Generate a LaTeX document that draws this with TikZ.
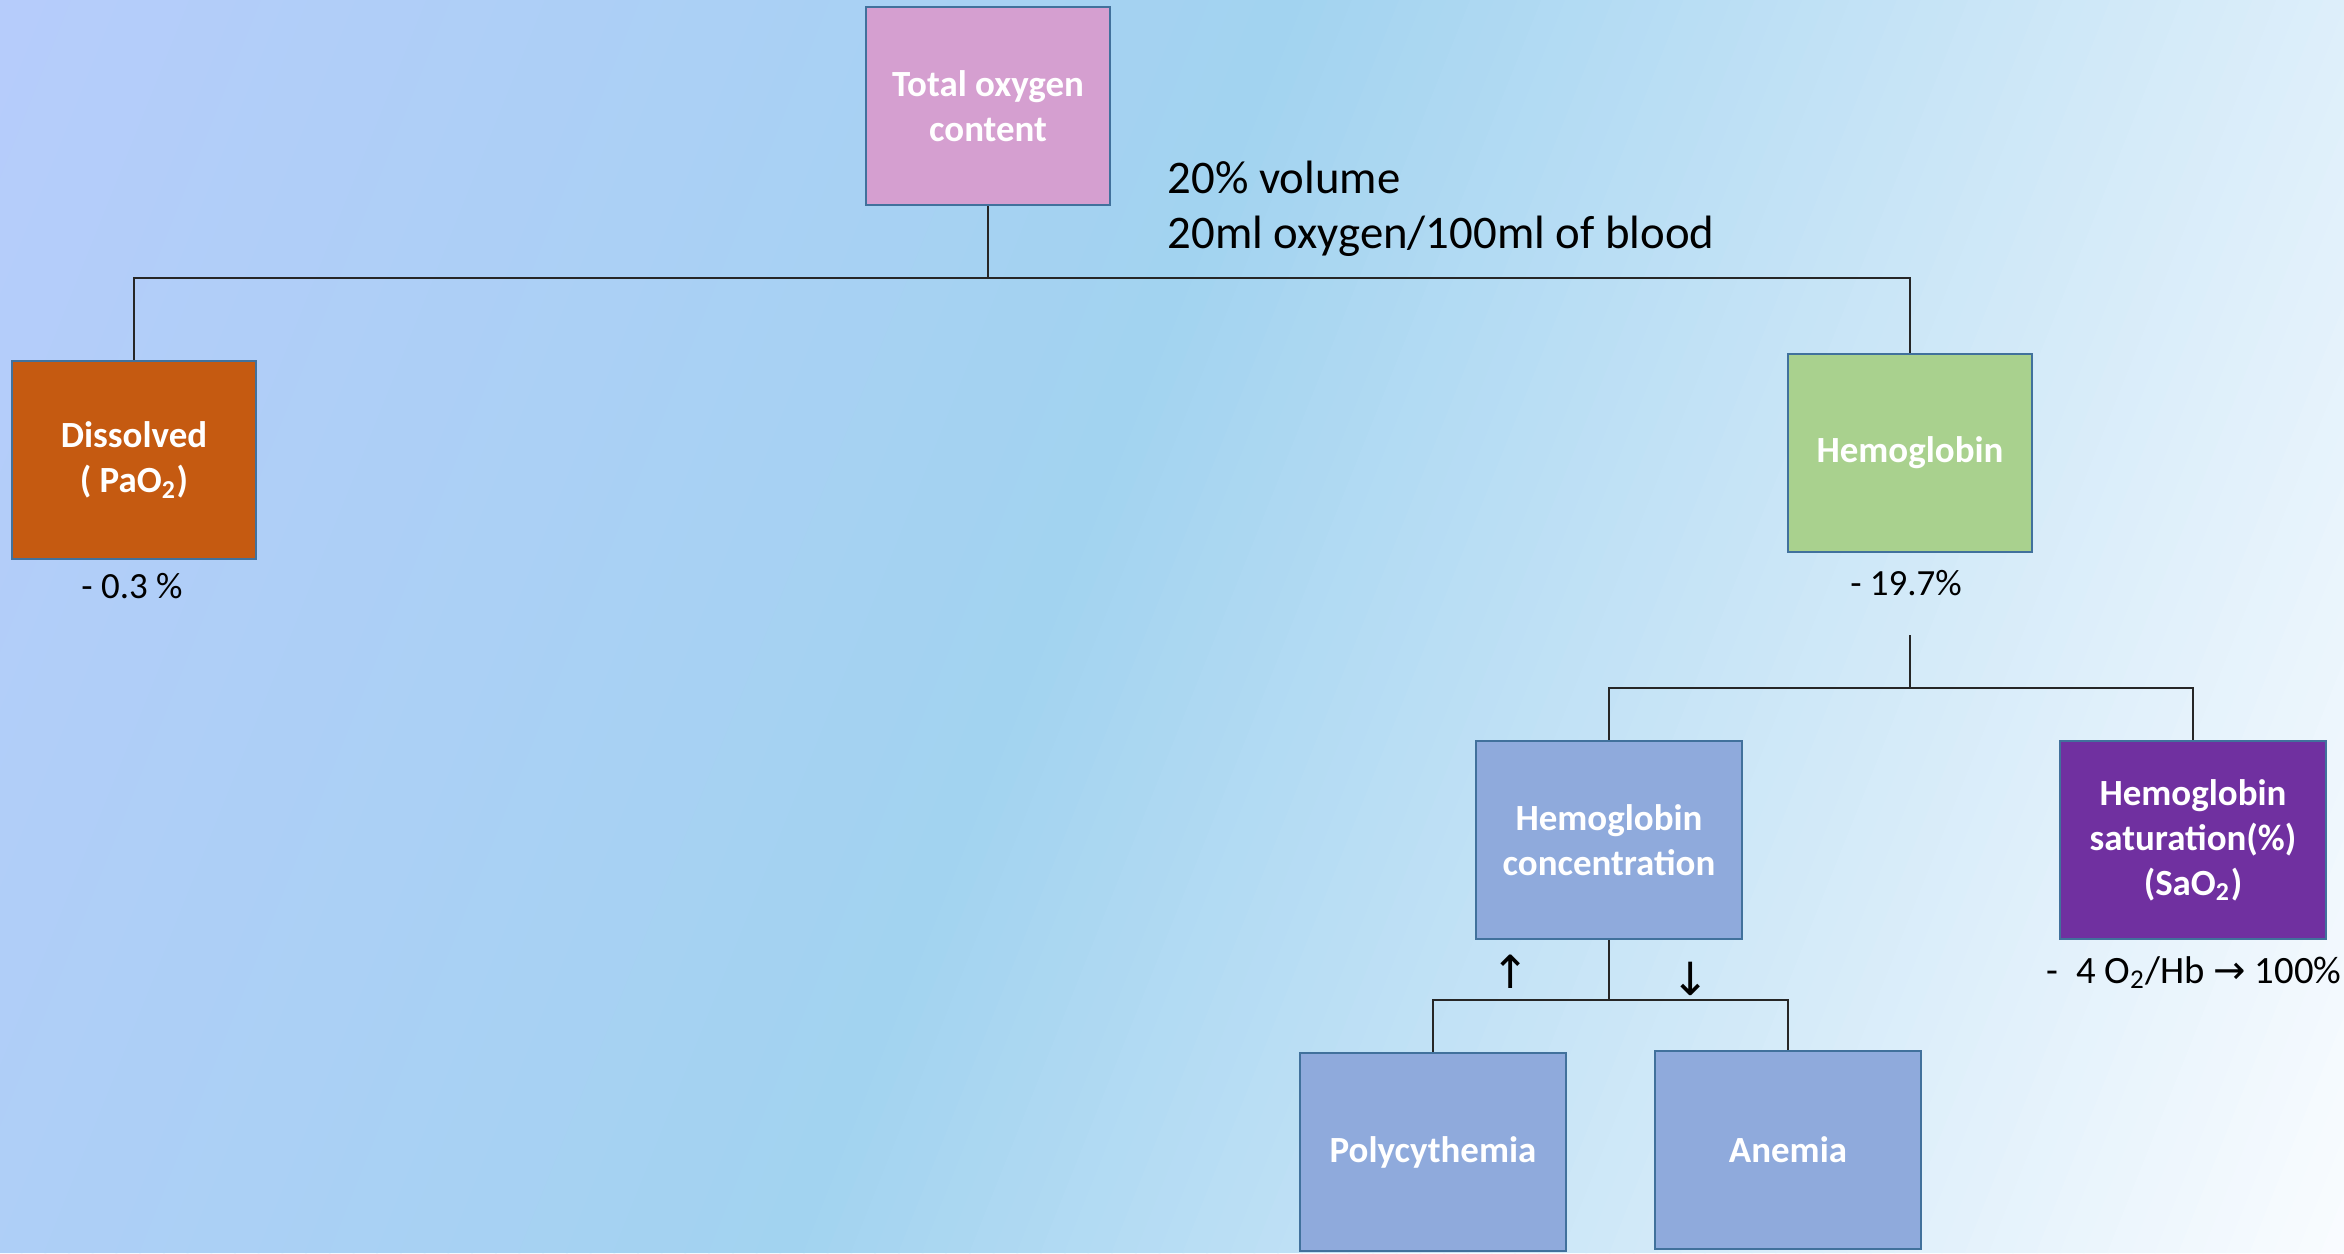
\documentclass[tikz,border=0pt]{standalone}
\usepackage{fontspec}
\setmainfont{Carlito}
\newfontfamily\arrowfont{DejaVu Sans}

\definecolor{bgA}{HTML}{B6CCFB}
\definecolor{bgB}{HTML}{A2D3F0}
\definecolor{bgC}{HTML}{FAFCFF}
\definecolor{boxline}{HTML}{41719C}
\definecolor{totalfill}{HTML}{D59FD0}
\definecolor{dissfill}{HTML}{C55A11}
\definecolor{hbfill}{HTML}{A9D18E}
\definecolor{concfill}{HTML}{8FAADC}
\definecolor{satfill}{HTML}{7030A0}

\tikzset{
  box/.style={draw=boxline, line width=0.6pt, minimum width=2.43cm,
    minimum height=1.98cm, inner sep=0pt, align=center, text=white,
    font=\fontsize{10.5}{12.8}\selectfont\bfseries},
  widebox/.style={box, minimum width=2.65cm},
  link/.style={draw=black!85, line width=0.5pt},
  note/.style={inner sep=0pt, font=\fontsize{10.5}{12.8}\selectfont}
}

\begin{document}
\begin{tikzpicture}[x=0.01cm, y=-0.01cm]
  \useasboundingbox (0,0) rectangle (2344,1253);

  % --- background ---
  \begin{scope}
    \clip (0,0) rectangle (2344,1253);
    \foreach \i in {0,...,119}{
      \pgfmathsetmacro{\sa}{\i*23.7083}
      \pgfmathsetmacro{\sb}{\sa+25.7}
      \ifnum\i<54
        \pgfmathsetmacro{\mixpct}{\i/54*100}
        \colorlet{stripe}{bgB!\mixpct!bgA}
      \else
        \pgfmathsetmacro{\mixpct}{(\i-54)/66*100}
        \colorlet{stripe}{bgC!\mixpct!bgB}
      \fi
      \fill[stripe] (\sa,0) -- (\sb,0) -- ({\sb-501},1253) -- ({\sa-501},1253) -- cycle;
    }
  \end{scope}

  % --- boxes ---
  \node[box, fill=totalfill] (total) at (988,106) {Total oxygen\\content};
  \node[box, fill=dissfill] (dissolved) at (134,460) {Dissolved\\( PaO\textsubscript{2})};
  \node[box, fill=hbfill] (hemo) at (1910,453) {Hemoglobin};
  \node[widebox, fill=concfill] (conc) at (1609,840) {Hemoglobin\\concentration};
  \node[widebox, fill=satfill] (sat) at (2193,840) {Hemoglobin\\saturation(\%)\\(SaO\textsubscript{2})};
  \node[widebox, fill=concfill] (poly) at (1433,1152) {Polycythemia};
  \node[widebox, fill=concfill] (anemia) at (1788,1150) {Anemia};

  % --- notes ---
  \node[note, anchor=base west, align=left, font=\fontsize{13.3}{15.6}\selectfont] (volume) at (1167,248)
    {20\% volume\\20ml oxygen/100ml of blood};
  \node[note, anchor=base] (dissnote) at (132,598) {- 0.3 \%};
  \node[note, anchor=base] (hbnote) at (1906,595) {- 19.7\%};
  \node[note, anchor=base, font=\fontsize{11}{13}\selectfont] (satnote) at (2194,983)
    {-\ \ 4 O\textsubscript{2}/Hb {\arrowfont →} 100\%};
  \node[note, font=\arrowfont\fontsize{13}{15}\selectfont] (up) at (1511,972) {↑};
  \node[note, font=\arrowfont\fontsize{13}{15}\selectfont] (down) at (1691,979) {↓};

  % --- total -> dissolved / hemoglobin ---
  \coordinate (bus1) at (988,278);
  \draw[link] (total.south) -- (bus1);
  \draw[link] (dissolved.north) |- (bus1) -| (hemo.north);

  % --- hemoglobin -> concentration / saturation ---
  \coordinate (hbfork) at (1910,635);
  \coordinate (bus2) at (1910,688);
  \draw[link] (hbfork) -- (bus2);
  \draw[link] (conc.north) |- (bus2) -| (sat.north);

  % --- concentration -> polycythemia / anemia ---
  \coordinate (bus3) at (1609,1000);
  \draw[link] (conc.south) -- (bus3);
  \draw[link] (poly.north) |- (bus3) -| (anemia.north);

\end{tikzpicture}
\end{document}
